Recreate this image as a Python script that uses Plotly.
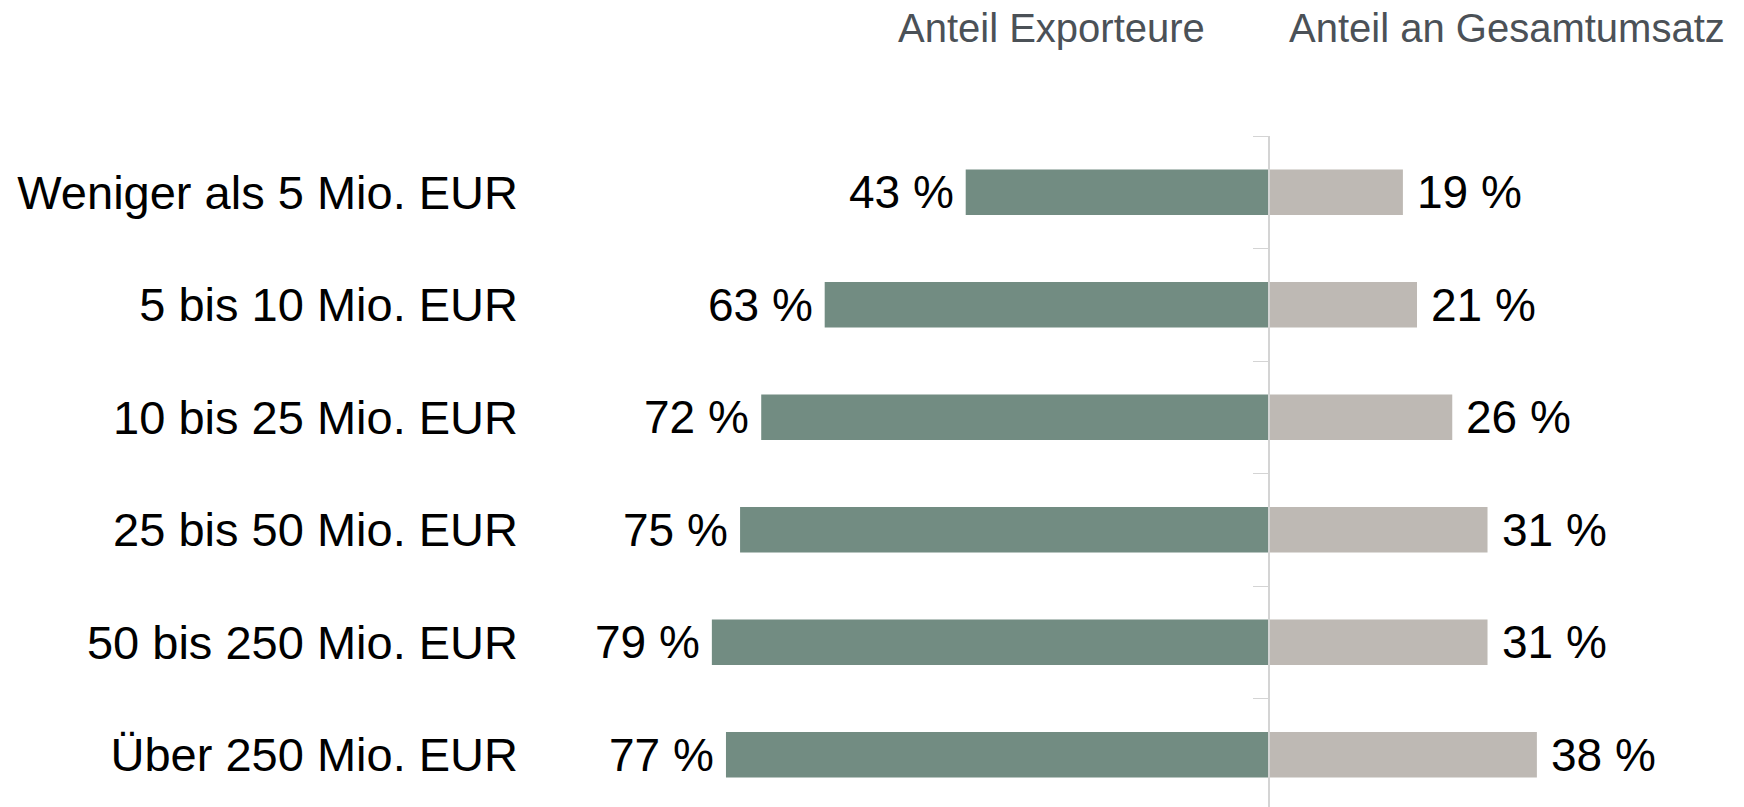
import plotly.graph_objects as go

# data
categories = ["Weniger als 5 Mio. EUR", "5 bis 10 Mio. EUR", "10 bis 25 Mio. EUR",
              "25 bis 50 Mio. EUR", "50 bis 250 Mio. EUR", "Über 250 Mio. EUR"]
exporteure = [43, 63, 72, 75, 79, 77]
umsatz = [19, 21, 26, 31, 31, 38]
headers = ["Anteil Exporteure", "Anteil an Gesamtumsatz"]

W, H = 1744, 807
ML, MR, MT, MB = 525, 40, 135.5, 0
XMIN, XMAX = -105.5, 61.7
zero_pos = (0 - XMIN) / (XMAX - XMIN)

green = "#728c82"
grey = "#beb9b4"
font = "Liberation Sans, Arial, sans-serif"

fig = go.Figure()
fig.add_trace(go.Bar(y=categories, x=[-v for v in exporteure], orientation="h",
                     marker=dict(color=green, line=dict(width=0)), width=0.405,
                     name=headers[0], hoverinfo="skip"))
fig.add_trace(go.Bar(y=categories, x=umsatz, orientation="h",
                     marker=dict(color=grey, line=dict(width=0)), width=0.405,
                     name=headers[1], hoverinfo="skip"))
# invisible helper so the centre axis gets its category ticks
fig.add_trace(go.Scatter(y=categories, x=[0] * len(categories), yaxis="y2",
                         mode="markers", marker=dict(opacity=0), showlegend=False,
                         hoverinfo="skip"))

# value labels
for c, v in zip(categories, exporteure):
    fig.add_annotation(x=-v, y=c, text=f"{v} %", showarrow=False, xanchor="right",
                       xshift=-10, font=dict(size=46, color="#000000", family=font))
for c, v in zip(categories, umsatz):
    fig.add_annotation(x=v, y=c, text=f"{v} %", showarrow=False, xanchor="left",
                       xshift=12, font=dict(size=46, color="#000000", family=font))

# column headers
pw = W - ML - MR
ph = H - MT - MB
for txt, cx in zip(headers, [1051.6, 1506.5]):
    fig.add_annotation(xref="paper", yref="paper", x=(cx - ML) / pw, y=(H - 27 - MB) / ph,
                       text=txt, showarrow=False, xanchor="center", yanchor="middle",
                       font=dict(size=40, color="#4b5157", family=font))

yr = [5.464, -0.5]
fig.update_layout(
    width=W, height=H,
    margin=dict(l=ML, r=MR, t=MT, b=MB, pad=0),
    barmode="relative", bargap=0.6,
    showlegend=False,
    plot_bgcolor="white", paper_bgcolor="white",
    font=dict(family=font, color="#000000"),
    xaxis=dict(range=[XMIN, XMAX], showgrid=False, zeroline=False,
               showticklabels=False, ticks="", showline=False, fixedrange=True),
    yaxis=dict(type="category", categoryorder="array", categoryarray=categories,
               range=yr, showgrid=False, zeroline=False, showline=False, ticks="",
               tickfont=dict(size=47, color="#000000", family=font),
               ticklabelstandoff=6, fixedrange=True),
    yaxis2=dict(type="category", categoryorder="array", categoryarray=categories,
                range=yr, overlaying="y", anchor="free", position=zero_pos, side="left",
                showgrid=False, zeroline=False, showline=True, linecolor="#d4d4d4",
                linewidth=1.5, ticks="outside", tickson="boundaries", ticklen=15,
                tickcolor="#d4d4d4", tickwidth=1.3, showticklabels=False, fixedrange=True),
)

# drop the browser's default 8px body margin so the figure sits at the page corner
fig.write_html("out.html", config={"displayModeBar": False},
               post_script="document.body.style.margin = '0';")
